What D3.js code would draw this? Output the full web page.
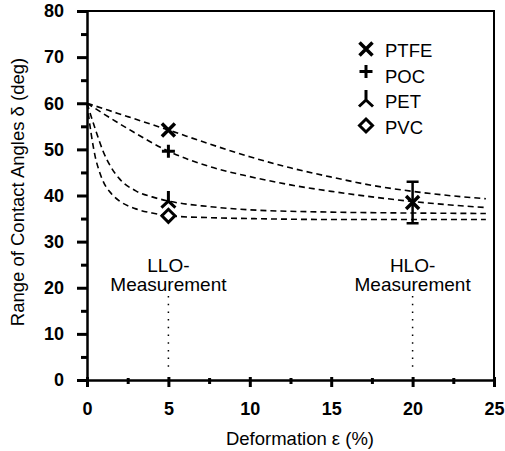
<!DOCTYPE html>
<html>
<head>
<meta charset="utf-8">
<script src="https://cdn.jsdelivr.net/npm/d3@7"></script>
<style>
  body { margin: 0; background: #fff; }
  svg text { font-family: "Liberation Sans", Arial, sans-serif; fill: #000; }
</style>
</head>
<body>
<div id="chart"></div>
<script>
// data
var ptfe = [[0,60],[2.5,57.1],[5,54.2],[7.5,51.2],[10,48.4],[12.5,46.0],[15,44.0],[17.5,42.2],[20,40.9],[22.5,39.9],[24.5,39.3]];
var poc = [[0,60],[2.5,54.5],[5,49.6],[7.5,46.3],[10,44.1],[12.5,42.3],[15,40.9],[17.5,39.7],[20,38.7],[22.5,37.9],[24.5,37.4]];
var pet = [[0,60],[0.5,54.5],[1,49.5],[1.5,46],[2,43.6],[3,41],[4,39.7],[5,38.8],[7.5,37.6],[10,36.9],[15,36.4],[20,36.2],[24.5,36.1]];
var pvc = [[0,60],[0.25,53.5],[0.5,48.5],[0.75,45.3],[1,43],[1.5,40.4],[2,38.8],[3,37.1],[4,36.2],[5,35.6],[7.5,35.2],[10,35.0],[15,34.8],[20,34.8],[24.5,34.8]];

var lloPoints = [
  {name: 'PTFE', sym: 'x', x: 5, y: 54.2},
  {name: 'POC', sym: 'plus', x: 5, y: 49.6},
  {name: 'PET', sym: 'tri', x: 5, y: 38.8},
  {name: 'PVC', sym: 'diamond', x: 5, y: 35.6}
];
var hloPoint = {x: 20, y: 38.5, lo: 34.0, hi: 43.0};

var yTicks = [0, 10, 20, 30, 40, 50, 60, 70, 80];
var yMinor = [5, 15, 25, 35, 45, 55, 65, 75];
var xTicks = [0, 5, 10, 15, 20, 25];
var xMinor = [2.5, 7.5, 12.5, 17.5, 22.5];

var svgWidth = 505;
var svgHeight = 451;

var svg = d3.select('#chart').append('svg')
  .attr('width', svgWidth)
  .attr('height', svgHeight);

var x = d3.scaleLinear().domain([0, 25]).range([87, 494]);
var y = d3.scaleLinear().domain([0, 80]).range([380, 11]);

// frame top and right
svg.append('path')
  .attr('d', `M${x(0)},${y(80)}H${x(25)}V${y(0)}`)
  .attr('fill', 'none')
  .attr('stroke', '#000')
  .attr('stroke-width', 2);

// y axis
var yAxis = svg.append('g')
  .attr('transform', `translate(${x(0)},0)`)
  .call(d3.axisLeft(y).tickValues(yTicks).tickSize(10).tickPadding(13));
svg.append('g')
  .attr('transform', `translate(${x(0)},0)`)
  .call(d3.axisLeft(y).tickValues(yMinor).tickSize(6).tickFormat(''))
  .select('.domain').remove();

// x axis
var xAxis = svg.append('g')
  .attr('transform', `translate(0,${y(0)})`)
  .call(d3.axisBottom(x).tickValues(xTicks).tickSize(7).tickPadding(15));
xAxis.selectAll('.tick line').attr('y1', -3);
var xMin = svg.append('g')
  .attr('transform', `translate(0,${y(0)})`)
  .call(d3.axisBottom(x).tickValues(xMinor).tickSize(4).tickFormat(''));
xMin.select('.domain').remove();
xMin.selectAll('.tick line').attr('y1', -2);

svg.selectAll('.domain').attr('stroke-width', 2.5);
svg.selectAll('.tick line').attr('stroke-width', 3);
svg.selectAll('.tick text')
  .attr('font-size', 18)
  .attr('font-weight', 'bold')
  .style('font-family', '"Liberation Sans", Arial, sans-serif');

// axis titles
svg.append('text')
  .attr('x', 300)
  .attr('y', 445)
  .attr('text-anchor', 'middle')
  .attr('font-size', 18.5)
  .text('Deformation ε (%)');

svg.append('text')
  .attr('transform', `translate(24,192) rotate(-90)`)
  .attr('text-anchor', 'middle')
  .attr('font-size', 18.5)
  .text('Range of Contact Angles δ (deg)');

// dashed curves
var line = d3.line()
  .x(d => x(d[0]))
  .y(d => y(d[1]))
  .curve(d3.curveMonotoneX);

[ptfe, poc, pet, pvc].forEach(function(s) {
  svg.append('path')
    .attr('d', line(s))
    .attr('fill', 'none')
    .attr('stroke', '#000')
    .attr('stroke-width', 1.6)
    .attr('stroke-dasharray', '6,4');
});

// dotted guides
[5, 20].forEach(function(v) {
  svg.append('line')
    .attr('x1', x(v)).attr('x2', x(v))
    .attr('y1', 296).attr('y2', 372)
    .attr('stroke', '#000')
    .attr('stroke-width', 1.5)
    .attr('stroke-dasharray', '1.5,6.2');
});

// annotations
function label(cx, t1, t2) {
  svg.append('text').attr('x', cx).attr('y', 272)
    .attr('text-anchor', 'middle').attr('font-size', 19).text(t1);
  svg.append('text').attr('x', cx).attr('y', 291)
    .attr('text-anchor', 'middle').attr('font-size', 19).text(t2);
}
label(x(5), 'LLO-', 'Measurement');
label(x(20), 'HLO-', 'Measurement');

// marker symbols
function drawSym(g, sym, cx, cy) {
  if (sym === 'x') {
    g.append('path')
      .attr('d', `M${cx-6.5},${cy-6.5}L${cx+6.5},${cy+6.5}M${cx-6.5},${cy+6.5}L${cx+6.5},${cy-6.5}`)
      .attr('stroke', '#000').attr('stroke-width', 3.5);
  } else if (sym === 'plus') {
    g.append('path')
      .attr('d', `M${cx-6.5},${cy}H${cx+6.5}M${cx},${cy-6.5}V${cy+6.5}`)
      .attr('stroke', '#000').attr('stroke-width', 3);
  } else if (sym === 'tri') {
    g.append('path')
      .attr('d', `M${cx},${cy-10}V${cy}M${cx-7},${cy+6.5}L${cx},${cy}L${cx+7},${cy+6.5}`)
      .attr('fill', 'none')
      .attr('stroke', '#000').attr('stroke-width', 3);
  } else {
    g.append('path')
      .attr('d', `M${cx},${cy-6.5}L${cx+6.5},${cy}L${cx},${cy+6.5}L${cx-6.5},${cy}Z`)
      .attr('fill', '#fff')
      .attr('stroke', '#000').attr('stroke-width', 3);
  }
}

var marks = svg.append('g');
lloPoints.forEach(function(p) {
  drawSym(marks, p.sym, x(p.x), y(p.y));
});

// HLO point with error bar
marks.append('path')
  .attr('d', `M${x(hloPoint.x)},${y(hloPoint.hi)}V${y(hloPoint.lo)}` +
    `M${x(hloPoint.x)-6},${y(hloPoint.hi)}H${x(hloPoint.x)+6}` +
    `M${x(hloPoint.x)-6},${y(hloPoint.lo)}H${x(hloPoint.x)+6}`)
  .attr('stroke', '#000').attr('stroke-width', 2.5);
drawSym(marks, 'x', x(hloPoint.x), y(hloPoint.y));

// legend
var legend = svg.append('g');
lloPoints.forEach(function(p, i) {
  var ly = 50 + i * 25.5;
  drawSym(legend, p.sym, 366, p.sym === 'plus' ? ly - 4 : ly - 1);
  legend.append('text')
    .attr('x', 385).attr('y', ly + 7)
    .attr('font-size', 18.5)
    .text(p.name);
});
</script>
</body>
</html>
